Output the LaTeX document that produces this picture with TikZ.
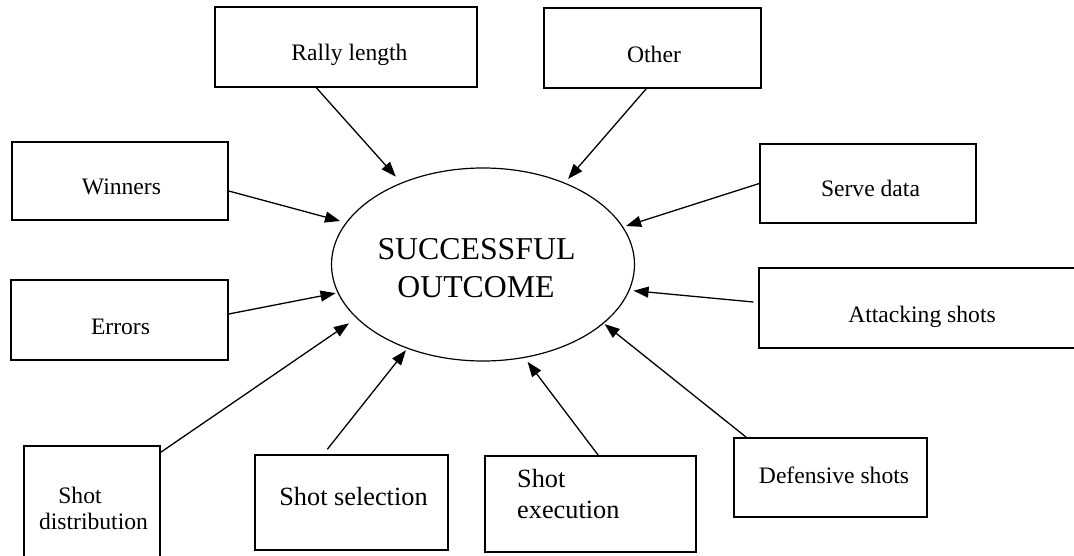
\documentclass[tikz,border=0pt]{standalone}
\usepackage{fontspec}
\setmainfont{Liberation Serif}
\usetikzlibrary{arrows.meta,shapes.geometric}
\begin{document}
\begin{tikzpicture}[x=1pt,y=-1pt,
  box/.style={draw,line width=1.4pt,rectangle,inner sep=0pt},
  lbl/.style={inner sep=0pt,font=\fontsize{23.6}{28}\selectfont},
  lblbig/.style={inner sep=0pt,font=\fontsize{26.3}{31}\selectfont},
  conn/.style={line width=1.3pt,-{Triangle[length=15pt,width=11pt]}}]
\useasboundingbox (0,0) rectangle (1074,556);
% ellipse
\node[ellipse,draw,line width=1.2pt,minimum width=303pt,minimum height=193pt,inner sep=0pt] (ell) at (483,264.5) {};
\node[inner sep=0pt,anchor=base,font=\fontsize{31.8}{38}\selectfont] (t1) at (476.5,260) {SUCCESSFUL};
\node[inner sep=0pt,anchor=base,font=\fontsize{31.8}{38}\selectfont] (t2) at (476,298) {OUTCOME};
% boxes
\node[box,minimum width=262pt,minimum height=80pt] (rally) at (346,47) {};
\node[box,minimum width=217pt,minimum height=80pt] (other) at (652.5,48) {};
\node[box,minimum width=216pt,minimum height=78pt] (win) at (120,181) {};
\node[box,minimum width=216pt,minimum height=79pt] (serve) at (868,183.5) {};
\node[box,minimum width=217pt,minimum height=80pt] (err) at (119.5,320) {};
\node[box,minimum width=331pt,minimum height=80pt] (att) at (924.5,308) {};
\node[box,minimum width=136pt,minimum height=124pt] (dist) at (92,508) {};
\node[box,minimum width=193pt,minimum height=95pt] (sel) at (351.5,502.5) {};
\node[box,minimum width=211pt,minimum height=96pt] (exec) at (590.5,504) {};
\node[box,minimum width=193pt,minimum height=79pt] (def) at (830.5,477.5) {};
% labels
\node[lbl,anchor=base] (lrally) at (349.5,61) {Rally length};
\node[lbl,anchor=base] (lother) at (654,63) {Other};
\node[lbl,anchor=base] (lwin) at (121.5,195) {Winners};
\node[lbl,anchor=base] (lserve) at (870.5,197) {Serve data};
\node[lbl,anchor=base] (lerr) at (120.5,334) {Errors};
\node[lbl,anchor=base] (latt) at (922,322.5) {Attacking shots};
\node[lbl,anchor=base] (ldist1) at (80,503) {Shot};
\node[lbl,anchor=base] (ldist2) at (93.5,529) {distribution};
\node[lblbig,anchor=base] (lsel) at (353.5,505) {Shot selection};
\node[lblbig,anchor=base west] (lexec1) at (517,487) {Shot};
\node[lblbig,anchor=base west] (lexec2) at (517,518) {execution};
\node[lbl,anchor=base] (ldef) at (834,483) {Defensive shots};
% connectors
\draw[conn,shorten >=8pt] ([xshift=102pt]rally.south west) -- (ell.135.5);
\draw[conn,shorten >=5pt] ([xshift=103pt]other.south west) -- (ell.45.2);
\draw[conn,shorten >=6pt] ([yshift=-10pt]win.east) -- (ell.163.6);
\draw[conn,shorten >=3pt] (serve.west) -- (ell.15.2);
\draw[conn,shorten >=2pt] ([yshift=6pt]err.east) -- (ell.191);
\draw[conn,shorten >=4pt] ([xshift=-5pt,yshift=6pt]att.west) -- (ell.-10.8);
\draw[conn,shorten >=9pt] ([yshift=-7pt]dist.north east) -- (ell.203.6);
\draw[conn,shorten >=2pt] ([xshift=73pt,yshift=5pt]sel.north west) -- (ell.228.4);
\draw[conn,shorten >=5pt] ([xshift=114pt]exec.north west) -- (ell.-66.7);
\draw[conn,shorten >=1pt] ([xshift=13pt]def.north west) -- (ell.-26);
\end{tikzpicture}
\end{document}
